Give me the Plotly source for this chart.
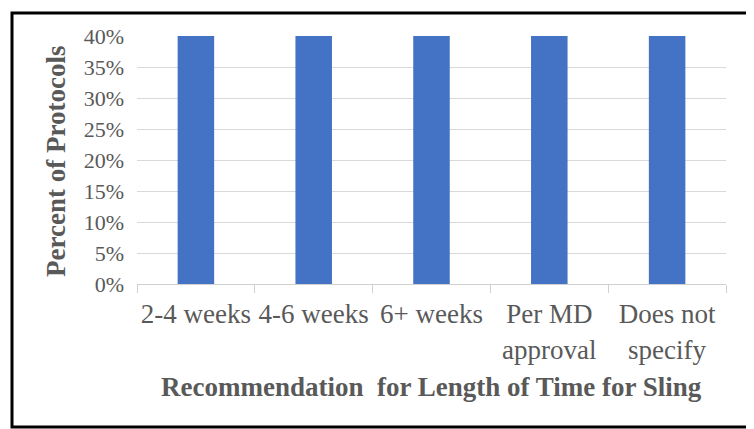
import plotly.graph_objects as go

categories = ["2-4 weeks", "4-6 weeks", "6+ weeks", "Per MD<br>approval", "Does not<br>specify"]
values = [0.40, 0.40, 0.40, 0.40, 0.40]
y_ticks = [0, 0.05, 0.10, 0.15, 0.20, 0.25, 0.30, 0.35, 0.40]
y_tick_labels = ["0%", "5%", "10%", "15%", "20%", "25%", "30%", "35%", "40%"]

OFF = 8  # browser body margin
W, H = 754 - OFF, 429 - OFF
L, R, T, B = 137 - OFF, 726 - OFF, 36 - OFF, 284 - OFF

fig = go.Figure(go.Bar(x=categories, y=values, marker=dict(color="#4472C4", line=dict(width=0)),
                       width=0.31))

font = "Liberation Serif, Times New Roman, serif"
gray = "#595959"

def px(x):
    return (x - OFF - L) / (R - L)

def py(y):
    return (B - (y - OFF)) / (B - T)

fig.update_layout(
    width=W, height=H,
    margin=dict(l=L, r=W - R, t=T, b=H - B, pad=0, autoexpand=False),
    paper_bgcolor="white", plot_bgcolor="white",
    showlegend=False,
    font=dict(family=font, color=gray),
    xaxis=dict(type="category", showgrid=False, showline=True, linecolor="#d0d0d0", linewidth=1,
               ticks="outside", tickson="boundaries", ticklen=8, tickcolor="#d0d0d0",
               tickangle=0, automargin=False, ticklabelstandoff=6,
               tickfont=dict(family=font, size=27, color=gray)),
    yaxis=dict(range=[0, 0.40], tickvals=y_ticks, ticktext=y_tick_labels, showgrid=True,
               gridcolor="#d9d9d9", gridwidth=1, zeroline=False, showline=False, automargin=False,
               tickfont=dict(family=font, size=22, color=gray), ticklabelstandoff=12),
    annotations=[
        dict(text="<b>Percent of Protocols</b>", xref="paper", yref="paper", x=px(56), y=py(162),
             xanchor="center", yanchor="middle", textangle=-90, showarrow=False,
             font=dict(family=font, size=27, color=gray)),
        dict(text="<b>Recommendation  for Length of Time for Sling</b>", xref="paper", yref="paper",
             x=px(431), y=py(387), xanchor="center", yanchor="middle", showarrow=False,
             font=dict(family=font, size=27, color=gray)),
    ],
    shapes=[
        dict(type="rect", xref="paper", yref="paper", x0=px(12), x1=px(749), y0=py(427), y1=py(13),
             line=dict(color="black", width=3), fillcolor="rgba(0,0,0,0)", layer="above"),
    ],
)

fig.write_html("out.html")
